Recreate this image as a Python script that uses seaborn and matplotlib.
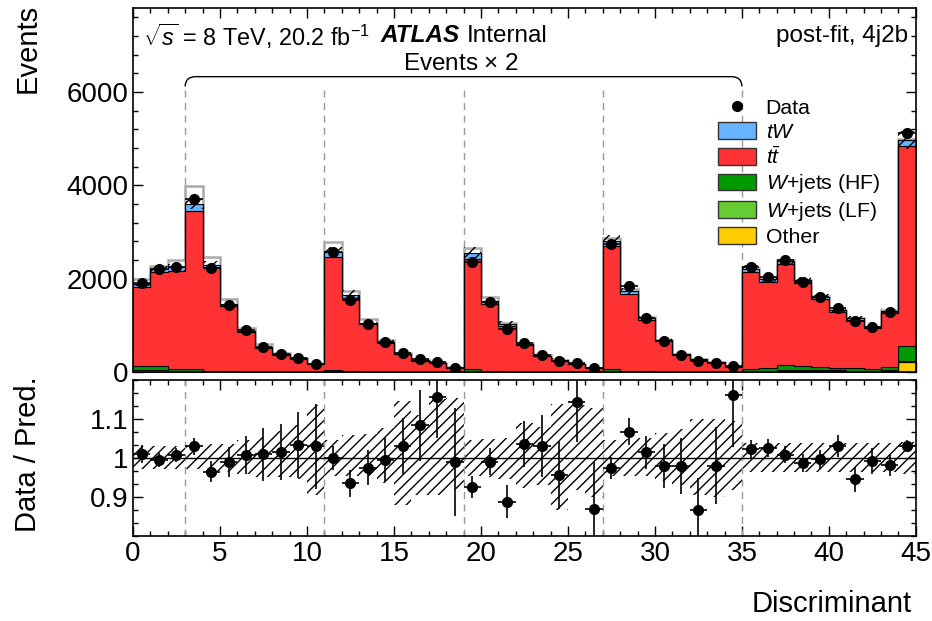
"""Post-fit discriminant distribution in the 4j2b region with data/prediction ratio."""
import numpy as np
import pandas as pd
import matplotlib
matplotlib.use('Agg')
import matplotlib.pyplot as plt
from matplotlib import ticker
from matplotlib.patches import Patch, PathPatch
from matplotlib.lines import Line2D
from matplotlib.path import Path
import seaborn as sns

# ---- values (bins 3-35 already scaled x2) ----
bin_edges = list(range(46))
block_edges = [3, 11, 19, 27, 35]

data_events = [1910, 2200, 2258, 3698, 2220, 1443, 893, 542, 386, 307, 171,
               2566, 1543, 1029, 637, 400, 272, 221, 93,
               2365, 1507, 915, 615, 364, 243, 200, 79,
               2737, 1843, 1164, 664, 371, 236, 200, 129,
               2258, 2044, 2401, 1936, 1608, 1365, 1086, 958, 1292, 5130]
data_err = [42, 40, 40, 80, 60, 55, 43, 36, 27, 25, 18,
            77, 56, 47, 36, 28, 23, 20, 13,
            72, 53, 44, 35, 28, 22, 18, 11,
            79, 60, 49, 39, 27, 22, 20, 15,
            53, 46, 52, 45, 40, 37, 36, 32, 36, 70]

ttbar = [1695, 2005, 2100, 3395, 2208, 1399, 849, 513, 362, 284, 158,
         2433, 1580, 1011, 614, 371, 240, 182, 90,
         2373, 1450, 985, 567, 336, 243, 166, 87,
         2638, 1647, 1098, 649, 362, 260, 194, 106,
         2074, 1842, 2162, 1779, 1463, 1188, 1033, 877, 1174, 4297]
tw = [60, 70, 75, 130, 75, 45, 28, 17, 12, 9, 5,
      95, 55, 35, 20, 12, 8, 6, 3,
      130, 55, 35, 20, 12, 8, 6, 3,
      110, 60, 38, 22, 12, 9, 7, 4,
      70, 62, 75, 62, 50, 42, 36, 30, 42, 120]
wjets_hf = [85, 85, 50, 50, 10, 8, 5, 4, 3, 2, 2,
            30, 10, 6, 4, 3, 2, 2, 1,
            45, 12, 7, 4, 3, 2, 2, 1,
            50, 14, 8, 5, 3, 2, 2, 1,
            45, 60, 100, 80, 65, 60, 50, 35, 65, 310]
wjets_lf = [10, 10, 5, 5, 2, 2, 1, 1, 1, 1, 0,
            3, 2, 1, 1, 1, 0, 0, 0,
            4, 2, 1, 1, 1, 0, 0, 0,
            4, 2, 1, 1, 1, 0, 0, 0,
            10, 10, 15, 12, 10, 10, 10, 8, 10, 30]
other = [40, 40, 10, 10, 5, 4, 3, 2, 2, 1, 1,
         5, 3, 2, 1, 1, 1, 1, 0,
         5, 3, 2, 1, 1, 1, 1, 0,
         5, 3, 2, 1, 1, 1, 1, 0,
         10, 20, 30, 30, 25, 25, 20, 15, 25, 214]
prefit_total = [1990, 2280, 2390, 3990, 2470, 1565, 940, 590, 400, 310, 175,
                2793, 1736, 1129, 680, 410, 265, 200, 98,
                2650, 1600, 1060, 615, 365, 262, 180, 94,
                2880, 1770, 1170, 690, 385, 276, 207, 113,
                2230, 2010, 2400, 1980, 1625, 1335, 1155, 970, 1325, 4990]

# relative uncertainty band (upper / lower edge of hatched area)
band_hi = [1.032, 1.032, 1.032, 1.032, 1.035, 1.035, 1.045, 1.055, 1.068, 1.085, 1.135,
           1.045, 1.060, 1.062, 1.076, 1.145, 1.110, 1.150, 1.155,
           1.045, 1.048, 1.052, 1.090, 1.080, 1.138, 1.135, 1.129,
           1.045, 1.048, 1.050, 1.063, 1.075, 1.100, 1.100, 1.094,
           1.038, 1.038, 1.038, 1.038, 1.038, 1.038, 1.038, 1.038, 1.038, 1.040]
band_lo = [0.971, 0.971, 0.971, 0.971, 0.967, 0.965, 0.958, 0.950, 0.950, 0.945, 0.905,
           0.955, 0.955, 0.953, 0.937, 0.880, 0.905, 0.905, 0.920,
           0.953, 0.950, 0.945, 0.923, 0.930, 0.866, 0.918, 0.900,
           0.953, 0.953, 0.955, 0.940, 0.930, 0.905, 0.900, 0.918,
           0.963, 0.963, 0.963, 0.963, 0.963, 0.963, 0.963, 0.963, 0.963, 0.960]

processes = ['tW', 'ttbar', 'W+jets (HF)', 'W+jets (LF)', 'Other']
labels = [r'$tW$', r'$t\bar{t}$', r'$W$+jets (HF)', r'$W$+jets (LF)', 'Other']
colors = ['#66b3ff', '#ff3333', '#009900', '#66cc33', '#ffcc00']

sns.set_theme(style='ticks')
plt.rcParams['font.family'] = ['Liberation Sans', 'DejaVu Sans']
plt.rcParams['mathtext.fontset'] = 'custom'
plt.rcParams['mathtext.rm'] = 'Liberation Sans'
plt.rcParams['mathtext.it'] = 'Liberation Sans:italic'
plt.rcParams['mathtext.bf'] = 'Liberation Sans:bold'
plt.rcParams['axes.linewidth'] = 1.2
plt.rcParams['axes.edgecolor'] = 'black'
plt.rcParams['text.color'] = 'black'
plt.rcParams['axes.labelcolor'] = 'black'
plt.rcParams['hatch.linewidth'] = 1.0

edges = np.array(bin_edges, dtype=float)
centers = edges[:-1] + 0.5
stack_parts = [tw, ttbar, wjets_hf, wjets_lf, other]
total = np.sum(np.array(stack_parts, dtype=float), axis=0)
data_arr = np.array(data_events, dtype=float)
ratio = data_arr / total
ratio_err = np.array(data_err) / total

stack = pd.DataFrame({
    'x': np.tile(centers, len(processes)),
    'events': np.concatenate(stack_parts),
    'process': np.repeat(processes, len(centers)),
})

fig = plt.figure(figsize=(9.32, 6.21), dpi=100)
ax = fig.add_axes([0.1427, 0.401, 0.840, 0.586])
rax = fig.add_axes([0.1427, 0.1369, 0.840, 0.2512])

# ---- main panel ----
y_brace, y_tip = 6330, 6120
ax.vlines(block_edges, 0, y_tip, colors='#999999', linestyles=(0, (5, 4)), lw=1, zorder=0.5)
ax.stairs(prefit_total, edges, color='#aaaaaa', lw=1.8, zorder=0.8)
sns.histplot(data=stack, x='x', weights='events', hue='process', hue_order=processes,
             palette=dict(zip(processes, colors)), multiple='stack', bins=bin_edges,
             element='step', alpha=1, edgecolor='black', linewidth=0.8,
             legend=False, ax=ax)
tot_ext = np.append(total, total[-1])
ax.fill_between(edges, tot_ext * np.append(band_lo, band_lo[-1]),
                tot_ext * np.append(band_hi, band_hi[-1]), step='post',
                facecolor='none', edgecolor='black', hatch='///', linewidth=0, zorder=3)
ax.errorbar(centers, data_arr, yerr=data_err, xerr=0.5, fmt='o', color='black',
            ms=7, elinewidth=1.2, capsize=0, zorder=5)

verts = [(3, y_tip), (3, y_brace), (3.6, y_brace), (34.4, y_brace),
         (35, y_brace), (35, y_tip)]
codes = [Path.MOVETO, Path.CURVE3, Path.CURVE3, Path.LINETO, Path.CURVE3, Path.CURVE3]
ax.add_patch(PathPatch(Path(verts, codes), facecolor='none', edgecolor='black', lw=1))

ax.set_xlim(0, 45)
ax.set_ylim(0, 7800)
ax.set_xlabel('')
ax.set_ylabel('')
ax.yaxis.set_major_locator(ticker.MultipleLocator(2000))
ax.yaxis.set_minor_locator(ticker.MultipleLocator(400))

handles = [Line2D([], [], marker='o', color='black', ls='none', ms=7)]
handles += [Patch(facecolor=c, edgecolor='#333333', lw=1) for c in colors]
fig.legend(handles, ['Data'] + labels, loc='upper left',
           bbox_to_anchor=(718 / 932, 1 - 98 / 621), frameon=False, fontsize=15.3,
           handlelength=1.77, handleheight=0.84, labelspacing=0.2,
           handletextpad=0.47, borderpad=0, borderaxespad=0)

fig.text(143 / 932, 1 - 36 / 621, r'$\sqrt{s}$ = 8 TeV, 20.2 fb$^{-1}$', fontsize=16.8, va='center')
fig.text(381 / 932, 1 - 36 / 621, 'ATLAS', fontsize=17.5, fontweight='bold',
         fontstyle='italic', va='center')
fig.text(467 / 932, 1 - 36 / 621, 'Internal', fontsize=17.5, va='center')
fig.text(908 / 932, 1 - 36 / 621, 'post-fit, 4j2b', fontsize=17.5, va='center', ha='right')
fig.text(461 / 932, 1 - 64 / 621, r'Events $\times$ 2', fontsize=17.5, va='center', ha='center')

# ---- ratio panel ----
rax.fill_between(edges, np.append(band_lo, band_lo[-1]), np.append(band_hi, band_hi[-1]),
                 step='post', facecolor='none', edgecolor='black', hatch='///',
                 linewidth=0, zorder=1)
rax.axhline(1, color='black', lw=1, zorder=2)
for b in block_edges:
    rax.axvline(b, color='#999999', ls=(0, (5, 4)), lw=1, zorder=1.5)
rax.errorbar(centers, ratio, yerr=ratio_err, xerr=0.5, fmt='o', color='black',
             ms=7, elinewidth=1.2, capsize=0, zorder=5)
rax.set_xlim(0, 45)
rax.set_ylim(0.8, 1.2)
rax.yaxis.set_major_locator(ticker.FixedLocator([0.9, 1.0, 1.1]))
rax.yaxis.set_minor_locator(ticker.MultipleLocator(0.1 / 3))
rax.yaxis.set_major_formatter(ticker.FuncFormatter(lambda v, p: f'{v:g}'))

for a in (ax, rax):
    a.xaxis.set_major_locator(ticker.MultipleLocator(5))
    a.xaxis.set_minor_locator(ticker.MultipleLocator(1))
    a.tick_params(which='both', direction='in', top=True, right=True,
                  labelsize=20, width=1, colors='black')
    a.tick_params(which='major', length=7.5)
    a.tick_params(which='minor', length=3.8)
ax.tick_params(labelbottom=False)

fig.text(28 / 932, 1 - 4 / 621, 'Events', fontsize=21, rotation=90, ha='center', va='top')
fig.text(28 / 932, 1 - 376 / 621, 'Data / Pred.', fontsize=21, rotation=90, ha='center', va='top')
fig.text(912 / 932, 1 - 612 / 621, 'Discriminant', fontsize=21, ha='right', va='baseline')

fig.savefig('out.png', dpi=100)
